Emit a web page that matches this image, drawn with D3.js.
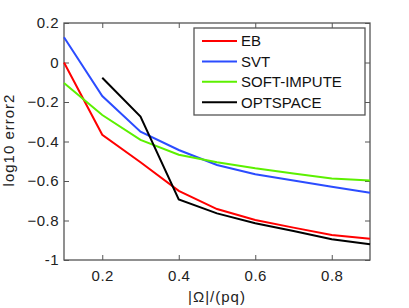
<!DOCTYPE html>
<html>
<head>
<meta charset="utf-8">
<script src="https://cdn.jsdelivr.net/npm/d3@7"></script>
<style>
  body { margin: 0; background: #fff; }
  text { font-family: "Liberation Sans", Arial, sans-serif; }
</style>
</head>
<body>
<div id="chart"></div>
<script>
// data
var fractions = [0.1, 0.2, 0.3, 0.4, 0.5, 0.6, 0.7, 0.8, 0.9];
var ebValues = [0, -0.366, -0.505, -0.65, -0.742, -0.797, -0.836, -0.873, -0.892];
var svtValues = [0.128, -0.17, -0.35, -0.443, -0.519, -0.566, -0.597, -0.629, -0.659];
var softImputeValues = [-0.104, -0.266, -0.392, -0.467, -0.505, -0.536, -0.562, -0.587, -0.598];
var optspaceValues = [null, -0.077, -0.274, -0.693, -0.764, -0.814, -0.853, -0.895, -0.92];
var seriesNames = ["EB", "SVT", "SOFT-IMPUTE", "OPTSPACE"];
var seriesColors = ["#ff0000", "#2b4cff", "#5cf000", "#000000"];
var xTicks = [0.2, 0.4, 0.6, 0.8];
var yTicks = [0.2, 0, -0.2, -0.4, -0.6, -0.8, -1];

var width = 409, height = 308;
var margin = { top: 23, right: 39, bottom: 48, left: 64 };
var chartWidth = width - margin.left - margin.right,
  chartHeight = height - margin.top - margin.bottom;

var svg = d3.select("#chart").append("svg")
  .attr("width", width)
  .attr("height", height);

var chart = svg.append("g")
  .attr("transform", `translate(${margin.left},${margin.top})`);

var x = d3.scaleLinear().domain([0.1, 0.9]).range([0, chartWidth]);
var y = d3.scaleLinear().domain([-1, 0.2]).range([chartHeight, 0]);

var axisColor = "#555";

function styleAxis(g, showLabels) {
  g.select(".domain").remove();
  g.selectAll(".tick line").attr("stroke", axisColor);
  g.selectAll(".tick text")
    .attr("fill", "#222")
    .style("font-size", "15px")
    .style("letter-spacing", "0.5px")
    .style("display", showLabels ? null : "none");
}

// ticks point inward on all four sides
chart.append("g")
  .attr("transform", `translate(0,${chartHeight})`)
  .call(d3.axisBottom(x).tickValues(xTicks).tickFormat(d3.format(".1f")).tickSizeInner(-5).tickPadding(10))
  .call(g => styleAxis(g, true));

chart.append("g")
  .call(d3.axisTop(x).tickValues(xTicks).tickSizeInner(-5))
  .call(g => styleAxis(g, false));

chart.append("g")
  .call(d3.axisLeft(y).tickValues(yTicks).tickFormat(d => d === 0 ? "0" : d === -1 ? "-1" : d3.format(".1f")(d)).tickSizeInner(-5).tickPadding(5))
  .call(g => styleAxis(g, true));

chart.append("g")
  .attr("transform", `translate(${chartWidth},0)`)
  .call(d3.axisRight(y).tickValues(yTicks).tickSizeInner(-5))
  .call(g => styleAxis(g, false));

chart.append("rect")
  .attr("width", chartWidth)
  .attr("height", chartHeight)
  .attr("fill", "none")
  .attr("stroke", axisColor)
  .attr("stroke-width", 1.3);

var line = d3.line()
  .defined(d => d[1] !== null)
  .x(d => x(d[0]))
  .y(d => y(d[1]));

var allSeries = [ebValues, svtValues, softImputeValues, optspaceValues];

chart.selectAll(".series")
  .data(allSeries)
  .enter().append("path")
  .attr("class", "series")
  .attr("fill", "none")
  .attr("stroke", (d, i) => seriesColors[i])
  .attr("stroke-width", 2)
  .attr("d", d => line(d.map((v, i) => [fractions[i], v])));

// legend
var legend = svg.append("g").attr("transform", "translate(194,28)");
legend.append("rect")
  .attr("width", 171)
  .attr("height", 87)
  .attr("fill", "#fff")
  .attr("stroke", axisColor)
  .attr("stroke-width", 1.3);

var rows = legend.selectAll(".row")
  .data(seriesNames)
  .enter().append("g")
  .attr("transform", (d, i) => `translate(0,${13 + i * 20.4})`);

rows.append("line")
  .attr("x1", 8).attr("x2", 43)
  .attr("stroke", (d, i) => seriesColors[i])
  .attr("stroke-width", 2);

rows.append("text")
  .attr("x", 47)
  .attr("dy", "0.36em")
  .attr("fill", "#111")
  .style("font-size", "15px")
  .text(d => d);

// axis titles
svg.append("text")
  .attr("x", margin.left + chartWidth / 2)
  .attr("y", 302)
  .attr("text-anchor", "middle")
  .attr("fill", "#222")
  .style("font-size", "15px")
  .style("letter-spacing", "1px")
  .text("|\u03A9|/(pq)");

svg.append("text")
  .attr("transform", `translate(14,140) rotate(-90)`)
  .attr("text-anchor", "middle")
  .attr("fill", "#222")
  .style("font-size", "15px")
  .style("letter-spacing", "1px")
  .text("log10 error2");
</script>
</body>
</html>
